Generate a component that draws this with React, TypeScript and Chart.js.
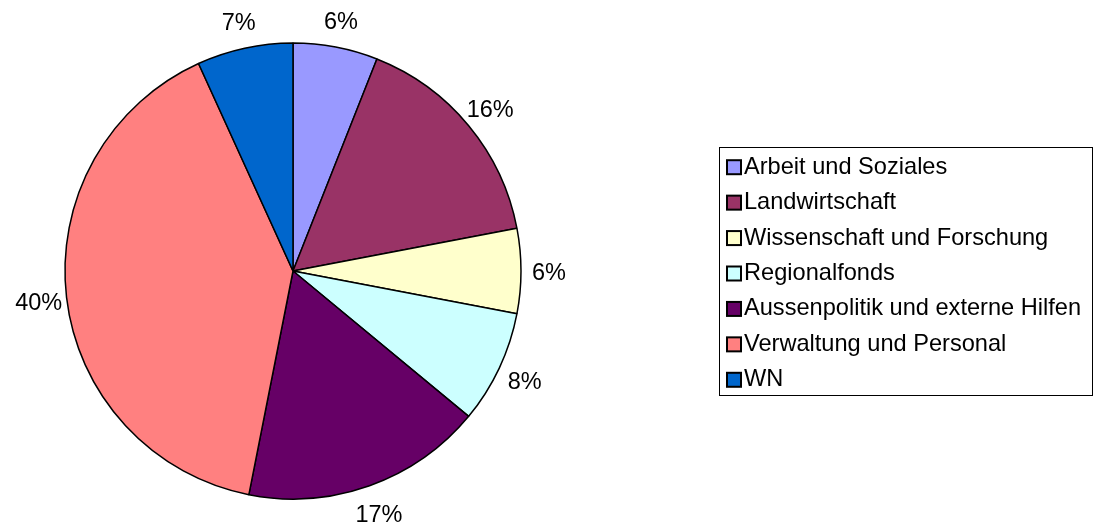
import React, { useEffect, useRef } from "react";
import { Chart, registerables } from "chart.js";

Chart.register(...registerables);

const categories = [
  "Arbeit und Soziales",
  "Landwirtschaft",
  "Wissenschaft und Forschung",
  "Regionalfonds",
  "Aussenpolitik und externe Hilfen",
  "Verwaltung und Personal",
  "WN",
];
const shares = [6.0, 16.0, 6.0, 8.0, 17.1, 40.1, 6.8];
const colors = ["#9999FF", "#993366", "#FFFFCC", "#CCFFFF", "#660066", "#FF8080", "#0066CC"];

const FONT = '"Liberation Sans", Arial, sans-serif';

const labelPlugin = {
  id: "pctLabels",
  afterDatasetsDraw(chart: any) {
    const ctx = chart.ctx;
    const meta = chart.getDatasetMeta(0);
    const data = chart.data.datasets[0].data as number[];
    const total = data.reduce((a, b) => a + b, 0);
    ctx.save();
    ctx.font = `23.5px ${FONT}`;
    ctx.fillStyle = "#000";
    ctx.textAlign = "center";
    ctx.textBaseline = "middle";
    meta.data.forEach((arc: any, i: number) => {
      const mid = (arc.startAngle + arc.endAngle) / 2;
      const r = arc.outerRadius + 28;
      const x = arc.x + Math.cos(mid) * r;
      const y = arc.y + Math.sin(mid) * r + 3;
      ctx.fillText(Math.round((data[i] / total) * 100) + "%", x, y);
    });
    ctx.restore();
  },
};

const legendPlugin = {
  id: "boxLegend",
  afterDraw(chart: any) {
    const ctx = chart.ctx;
    const left = 719.5, top = 147.5, right = 1092.5, bottom = 395.5;
    ctx.save();
    ctx.strokeStyle = "#000";
    ctx.lineWidth = 1;
    ctx.strokeRect(left, top, right - left, bottom - top);
    const step = (bottom - top) / categories.length;
    ctx.font = `23.6px ${FONT}`;
    ctx.textBaseline = "middle";
    ctx.textAlign = "left";
    categories.forEach((c, i) => {
      const cy = top + step * (i + 0.5) + 2;
      ctx.fillStyle = colors[i];
      ctx.fillRect(727, cy - 7, 14, 14);
      ctx.strokeStyle = "#000";
      ctx.lineWidth = 2;
      ctx.strokeRect(727, cy - 7, 14, 14);
      ctx.fillStyle = "#000";
      ctx.fillText(c, 744, cy);
    });
    ctx.restore();
  },
};

export default function App() {
  const ref = useRef<HTMLCanvasElement>(null);
  useEffect(() => {
    const chart = new Chart(ref.current!, {
      type: "pie",
      data: {
        labels: categories,
        datasets: [
          {
            data: shares,
            backgroundColor: colors,
            borderColor: "#000",
            borderWidth: 1.5,
            hoverOffset: 0,
          },
        ],
      },
      options: {
        responsive: false,
        animation: false,
        radius: 228,
        layout: { padding: { left: 0, right: 511, top: 19, bottom: 0 } },
        plugins: {
          legend: { display: false },
          tooltip: { enabled: false },
        },
      } as any,
      plugins: [labelPlugin, legendPlugin],
    });
    return () => chart.destroy();
  }, []);
  return (
    <div style={{ position: "fixed", left: 0, top: 0, width: 1097, height: 523, background: "#fff" }}>
      <canvas ref={ref} width={1097} height={523} style={{ width: 1097, height: 523 }} />
    </div>
  );
}
